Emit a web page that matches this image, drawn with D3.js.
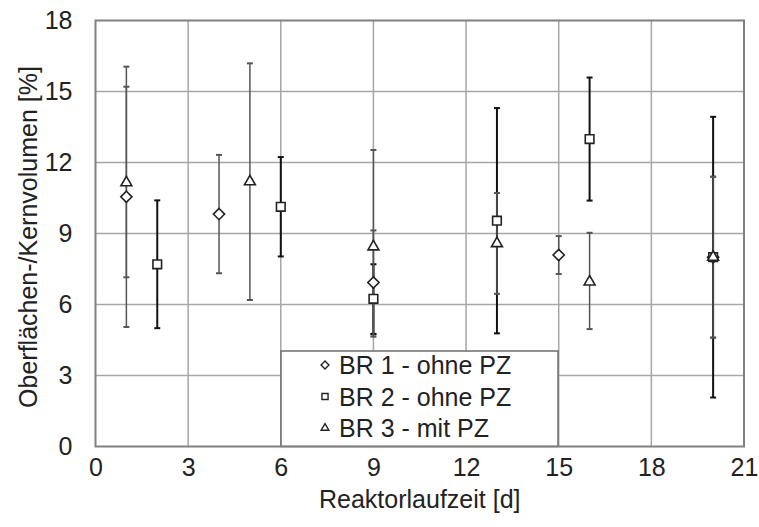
<!DOCTYPE html>
<html><head><meta charset="utf-8">
<script src="https://cdn.jsdelivr.net/npm/d3@7"></script>
<style>body{margin:0;background:#fff}svg{display:block}text{font-family:"Liberation Sans",Arial,sans-serif;fill:#222}</style>
</head><body><svg id="c" width="759" height="527"></svg>
<script>
const xTicks = [0, 3, 6, 9, 12, 15, 18, 21];
const yTicks = [0, 3, 6, 9, 12, 15, 18];
const seriesNames = ["BR 1 - ohne PZ", "BR 2 - ohne PZ", "BR 3 - mit PZ"];
const br1Days = [1, 4, 9, 15, 20];
const br1Mean = [10.55, 9.82, 6.93, 8.09, 8.0];
const br1ErrUp = [5.5, 2.5, 2.2, 0.8, 3.4];
const br1ErrDown = [5.5, 2.5, 2.2, 0.8, 3.4];
const br2Days = [2, 6, 9, 13, 16, 20];
const br2Mean = [7.70, 10.13, 6.24, 9.54, 12.99, 8.0];
const br2ErrUp = [2.7, 2.1, 1.46, 4.76, 2.6, 5.93];
const br2ErrDown = [2.7, 2.1, 1.48, 4.76, 2.6, 5.93];
const br3Days = [1, 5, 9, 13, 16, 20];
const br3Mean = [11.15, 11.19, 8.44, 8.58, 6.96, 8.0];
const br3ErrUp = [4.05, 5.0, 4.09, 2.13, 2.07, 3.4];
const br3ErrDown = [4.0, 5.0, 3.8, 2.13, 2.0, 3.4];

const svg = d3.select("#c");
const L = 95.5, R = 744, T = 20.5, B = 446.5;
const x = d3.scaleLinear().domain([0, 21]).range([L, R]);
const y = d3.scaleLinear().domain([0, 18]).range([B, T]);
const FS = 25;

// gridlines
svg.append("g").selectAll("line").data(xTicks.slice(1, -1)).join("line")
  .attr("x1", d => x(d)).attr("x2", d => x(d)).attr("y1", T).attr("y2", B)
  .attr("stroke", "#a6a6a6").attr("stroke-width", 1.5);
svg.append("g").selectAll("line").data(yTicks.slice(1, -1)).join("line")
  .attr("y1", d => y(d)).attr("y2", d => y(d)).attr("x1", L).attr("x2", R)
  .attr("stroke", "#a6a6a6").attr("stroke-width", 1.5);

// axes labels via d3 axes
const gx = svg.append("g").attr("transform", `translate(0,${B})`)
  .call(d3.axisBottom(x).tickValues(xTicks).tickSize(0).tickPadding(12));
gx.select(".domain").remove();
gx.selectAll("text").attr("font-size", FS).attr("fill", "#222").attr("font-family", "Liberation Sans, Arial, sans-serif");
const gy = svg.append("g").attr("transform", `translate(${L},0)`)
  .call(d3.axisLeft(y).tickValues(yTicks).tickSize(0).tickPadding(23));
gy.select(".domain").remove();
gy.selectAll("text").attr("font-size", FS).attr("fill", "#222").attr("font-family", "Liberation Sans, Arial, sans-serif");

svg.append("text").attr("x", (L + R) / 2).attr("y", 508).attr("text-anchor", "middle")
  .attr("font-size", FS).text("Reaktorlaufzeit [d]");
svg.append("text").attr("transform", `translate(37,237) rotate(-90)`)
  .attr("text-anchor", "middle").attr("font-size", FS).text("Oberflächen-/Kernvolumen [%]");

// series
const series = [
  {days: br1Days, mean: br1Mean, up: br1ErrUp, down: br1ErrDown, sym: d3.symbolDiamond2, size: 80, ec: "#555", ew: 1.5},
  {days: br2Days, mean: br2Mean, up: br2ErrUp, down: br2ErrDown, sym: d3.symbolSquare2, size: 95, ec: "#111", ew: 2},
  {days: br3Days, mean: br3Mean, up: br3ErrUp, down: br3ErrDown, sym: d3.symbolTriangle2, size: 85, ec: "#555", ew: 1.5}
];
const eb = svg.append("g");
series.forEach(s => {
  const pts = s.days.map((d, i) => ({d, m: s.mean[i], u: s.up[i], l: s.down[i]}));
  const g = eb.append("g");
  g.selectAll("line.v").data(pts).join("line").attr("class", "v")
    .attr("x1", p => x(p.d)).attr("x2", p => x(p.d))
    .attr("y1", p => y(p.m + p.u)).attr("y2", p => y(p.m - p.l))
    .attr("stroke", s.ec).attr("stroke-width", s.ew);
  ["u", "l"].forEach(k => {
    g.selectAll("line.c" + k).data(pts).join("line").attr("class", "c" + k)
      .attr("x1", p => x(p.d) - 3).attr("x2", p => x(p.d) + 3)
      .attr("y1", p => y(k === "u" ? p.m + p.u : p.m - p.l))
      .attr("y2", p => y(k === "u" ? p.m + p.u : p.m - p.l))
      .attr("stroke", s.ec).attr("stroke-width", 2);
  });
});
const mk = svg.append("g");
series.forEach(s => {
  const pts = s.days.map((d, i) => ({d, m: s.mean[i]}));
  mk.append("g").selectAll("path").data(pts).join("path")
    .attr("d", d3.symbol(s.sym, s.size))
    .attr("transform", p => `translate(${x(p.d)},${y(p.m)})`)
    .attr("fill", "#fff").attr("stroke", "#222").attr("stroke-width", 1.6);
});

// legend
const lg = svg.append("g");
lg.append("rect").attr("x", 281).attr("y", 351).attr("width", 277).attr("height", B - 351)
  .attr("fill", "#fff").attr("stroke", "#6e6e6e").attr("stroke-width", 1.5);
series.forEach((s, i) => {
  const cy = 365 + i * 31.5;
  lg.append("path").attr("d", d3.symbol(s.sym, s.size * 0.5))
    .attr("transform", `translate(325,${cy})`)
    .attr("fill", "#fff").attr("stroke", "#222").attr("stroke-width", 1.4);
  lg.append("text").attr("x", 339).attr("y", cy).attr("dy", "0.36em")
    .attr("font-size", FS).text(seriesNames[i]);
});

// plot border
svg.append("rect").attr("x", L).attr("y", T).attr("width", R - L).attr("height", B - T)
  .attr("fill", "none").attr("stroke", "#808080").attr("stroke-width", 2);
</script></body></html>
